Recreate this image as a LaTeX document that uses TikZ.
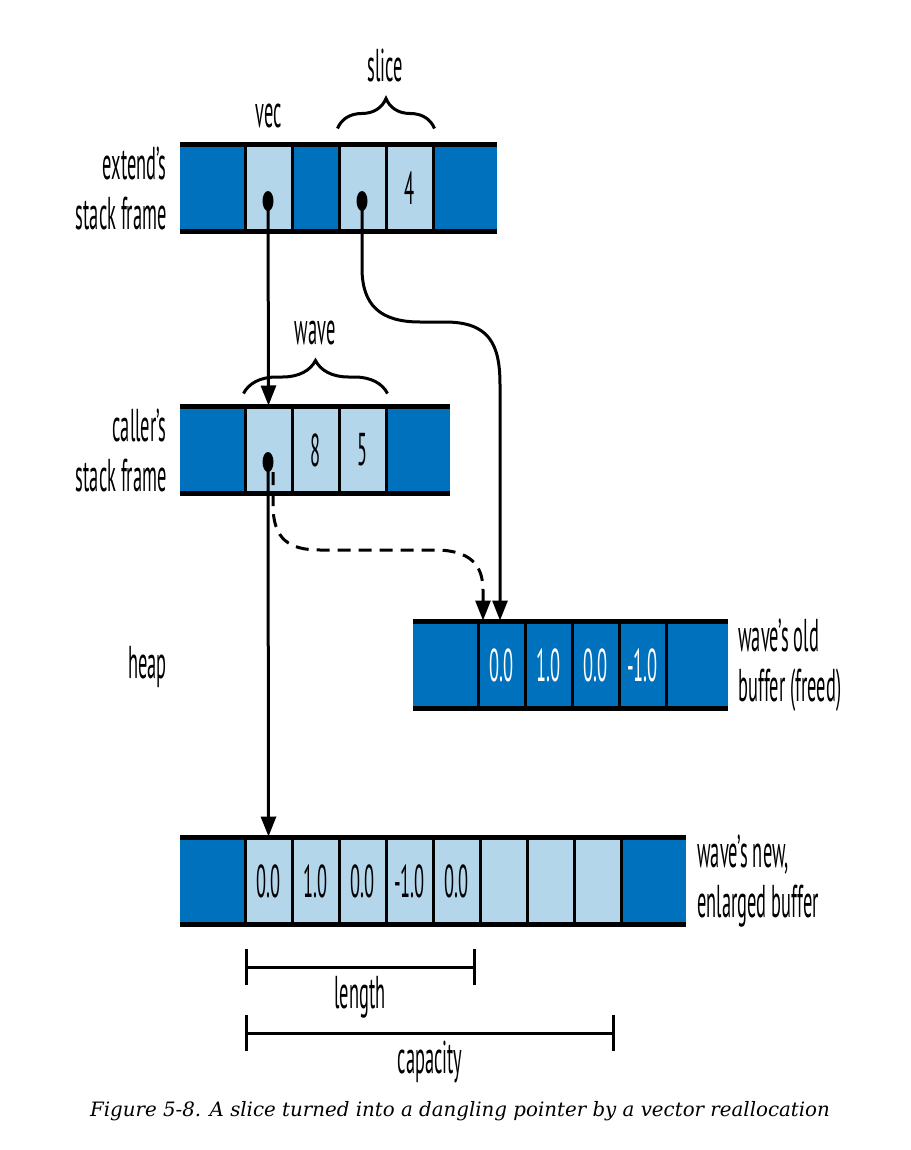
\documentclass[tikz,border=0pt]{standalone}
\usepackage{fontspec}
\setmainfont{PT Sans}[FakeStretch=0.4]
\newfontfamily\capfont{DejaVu Serif}
\usetikzlibrary{shapes,arrows.meta,positioning,decorations.pathreplacing}
\definecolor{framedark}{RGB}{0,113,188}
\definecolor{framelight}{RGB}{180,214,235}

\begin{document}
\begin{tikzpicture}[x=1pt, y=-1pt,
    lbl/.style={font=\fontsize{46}{50}\selectfont, inner sep=0pt},
    cell/.style={draw=black, line width=3pt, minimum width=47pt, minimum height=86pt, inner sep=0pt, fill=framelight, font=\fontsize{46}{50}\selectfont},
    endcell/.style={minimum width=65pt, minimum height=86pt, inner sep=0pt, fill=framedark},
    rail/.style={line width=5pt},
    dot/.style={ellipse, fill=black, minimum width=11pt, minimum height=20pt, inner sep=0pt},
    arrow/.style={-{Triangle[length=20pt,width=15pt]}, line width=3pt},
    brace/.style={decorate, decoration={brace, amplitude=30pt}, line width=3pt},
    span/.style={{Bar[width=36pt]}-{Bar[width=36pt]}, line width=3pt}
]
\useasboundingbox (0,0) rectangle (910,1150);

% extend's stack frame
\node[endcell] (ed0) at (212.5,188) {};
\node[endcell] (ed5) at (464.5,188) {};
\node[cell] (ev) at (268.5,188) {};
\node[cell, fill=framedark] (ed2) at (315.5,188) {};
\node[cell] (es1) at (362.5,188) {};
\node[cell] (es2) at (409.5,188) {4};
\draw[rail] (ed0.north west) -- (ed5.north east);
\draw[rail] (ed0.south west) -- (ed5.south east);
\node[dot] (vecdot) at (268,201) {};
\node[dot] (slicedot) at (362,201) {};

% caller's stack frame
\node[endcell] (cd0) at (212.5,450) {};
\node[endcell] (cd4) at (417.5,450) {};
\node[cell] (cw1) at (268.5,450) {};
\node[cell] (cw2) at (315.5,450) {8};
\node[cell] (cw3) at (362.5,450) {5};
\draw[rail] (cd0.north west) -- (cd4.north east);
\draw[rail] (cd0.south west) -- (cd4.south east);
\node[dot] (cdot) at (268,462) {};

% old buffer
\node[endcell] (od0) at (445.5,665) {};
\node[endcell, minimum width=62pt] (od5) at (697,665) {};
\node[cell, fill=framedark, text=white] (ob1) at (501.5,665) {0.0};
\node[cell, fill=framedark, text=white] (ob2) at (548.5,665) {1.0};
\node[cell, fill=framedark, text=white] (ob3) at (595.5,665) {0.0};
\node[cell, fill=framedark, text=white] (ob4) at (642.5,665) {-1.0};
\draw[rail] (od0.north west) -- (od5.north east);
\draw[rail] (od0.south west) -- (od5.south east);

% new buffer
\node[endcell] (nd0) at (212.5,881) {};
\node[endcell] (nd9) at (653.5,881) {};
\node[cell] (nb1) at (268.5,881) {0.0};
\node[cell] (nb2) at (315.5,881) {1.0};
\node[cell] (nb3) at (362.5,881) {0.0};
\node[cell] (nb4) at (409.5,881) {-1.0};
\node[cell] (nb5) at (456.5,881) {0.0};
\node[cell] (nb6) at (503.5,881) {};
\node[cell] (nb7) at (550.5,881) {};
\node[cell] (nb8) at (597.5,881) {};
\draw[rail] (nd0.north west) -- (nd9.north east);
\draw[rail] (nd0.south west) -- (nd9.south east);

% Labels
\node[lbl, align=right, left=13pt of ed0] (extendlbl) {extend's\\stack frame};
\node[lbl, align=right, left=13pt of cd0] (callerlbl) {caller's\\stack frame};
\node[lbl, anchor=base east] (heaplbl) at (167,678) {heap};
\node[lbl, align=left, right=10pt of od5] (oldlbl) {wave's old\\buffer (freed)};
\node[lbl, align=left, right=11pt of nd9] (newlbl) {wave's new,\\enlarged buffer};
\node[lbl, above=15pt of ev] (veclbl) {vec};
\node[lbl, anchor=base] (slicelbl) at (385,82) {slice};
\node[lbl, anchor=base] (wavelbl) at (315,344) {wave};

% Braces
\draw[brace] ([yshift=15pt]es1.north west) -- ([yshift=15pt]es2.north east);
\draw[brace, decoration={amplitude=33pt}] ([yshift=12pt]cw1.north west) -- ([yshift=12pt]cw3.north east);

% Pointers
\draw[arrow] (vecdot.center) -- (cw1.north);
\draw[arrow] (slicedot.center) -- (362,268) .. controls (362,305) and (380,322) .. (420,322)
    -- (445,322) .. controls (490,322) and (500,345) .. (500,385) -- ([xshift=-1.5pt]ob1.north);
\draw[arrow, dash pattern=on 13pt off 8pt] ([xshift=5pt]cdot.south) -- (273,505)
    .. controls (273,540) and (290,550) .. (320,550) -- (435,550)
    .. controls (470,550) and (483,565) .. (483,590) -- ([xshift=-18.5pt]ob1.north);
\draw[arrow] (cdot.center) -- (nb1.north);

% Length and capacity
\coordinate (lenL) at (245,967);
\coordinate (lenR) at (476,967);
\coordinate (capL) at (245,1033);
\coordinate (capR) at (615,1033);
\draw[span] (lenL) -- (lenR);
\draw[span] (capL) -- (capR);
\node[lbl, anchor=base] (lenlbl) at (360,1008) {length};
\node[lbl, anchor=base] (caplbl) at (430,1073) {capacity};

% Caption
\node[font=\capfont\itshape\fontsize{19.8}{24}\selectfont, anchor=base] (caption) at (460,1116)
    {Figure 5-8. A slice turned into a dangling pointer by a vector reallocation};

\end{tikzpicture}
\end{document}
